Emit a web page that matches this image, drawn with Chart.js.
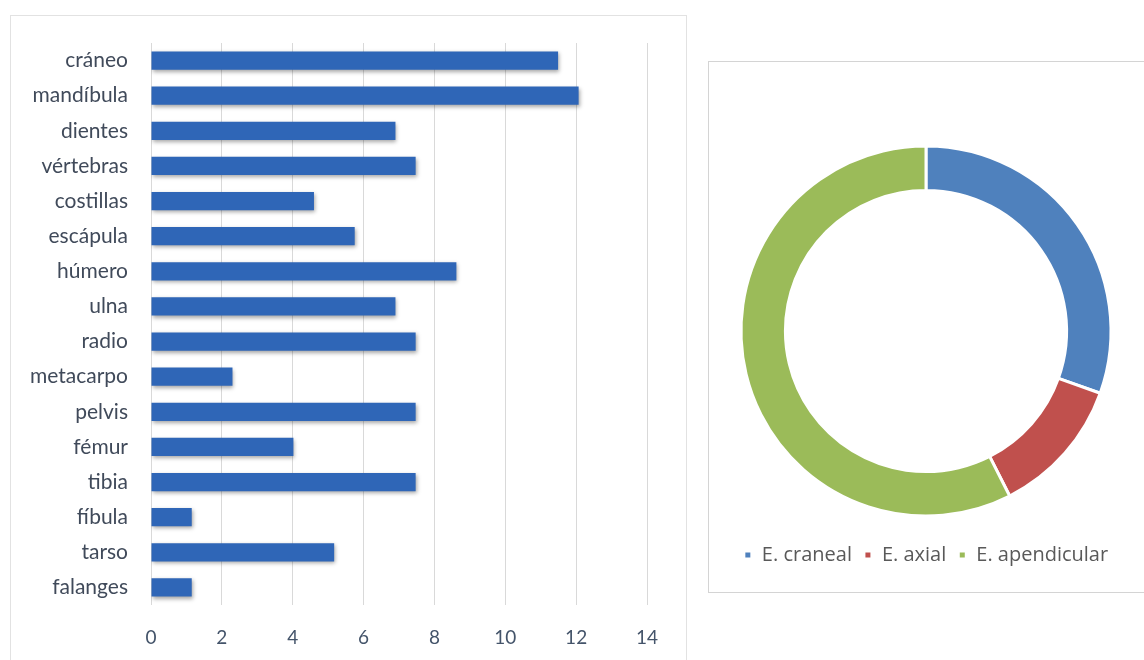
<!DOCTYPE html>
<html lang="es">
<head>
<meta charset="UTF-8">
<title>Elementos óseos</title>
<script src="https://cdn.jsdelivr.net/npm/chart.js@4.4.1/dist/chart.umd.min.js"></script>
<style>
    html, body { margin: 0; padding: 0; background: #fff; overflow: hidden; }
    body { width: 1144px; height: 660px; position: relative; }
    .panel { position: absolute; box-sizing: border-box; }
    #leftBox { left: 10px; top: 15px; width: 677px; height: 700px; border: 1px solid #e2e2e2; }
    #rightBox { left: 708px; top: 61px; width: 460px; height: 532px; border: 1px solid #d4d4d4; }
    #barChart { position: absolute; left: 0; top: 0; }
    #donutChart { position: absolute; left: 708px; top: 61px; }
</style>
</head>
<body>
<div class="panel" id="leftBox"></div>
<div class="panel" id="rightBox"></div>
<canvas id="barChart" width="690" height="660"></canvas>
<canvas id="donutChart" width="436" height="531"></canvas>

<script>
// bar chart: % of each bone element
const bones = ['cráneo', 'mandíbula', 'dientes', 'vértebras', 'costillas', 'escápula', 'húmero', 'ulna',
               'radio', 'metacarpo', 'pelvis', 'fémur', 'tibia', 'fíbula', 'tarso', 'falanges'];
const bonePct = [11.49, 12.07, 6.90, 7.47, 4.60, 5.75, 8.62, 6.90,
                 7.47, 2.30, 7.47, 4.02, 7.47, 1.15, 5.17, 1.15];
const xTicks = [0, 2, 4, 6, 8, 10, 12, 14];

// doughnut: skeleton regions
const regions = ['E. craneal', 'E. axial', 'E. apendicular'];
const regionPct = [30.46, 12.07, 57.47];
const regionColors = ['#4f81bd', '#c0504d', '#9bbb59'];

const labelFont = "Lato, 'DejaVu Sans', sans-serif";

// soft drop shadow under the bars, like the Excel original
const barShadow = {
    id: 'barShadow',
    beforeDatasetsDraw(chart) {
        const c = chart.ctx;
        c.save();
        c.shadowColor = 'rgba(0, 0, 0, 0.35)';
        c.shadowBlur = 4;
        c.shadowOffsetX = 1;
        c.shadowOffsetY = 2;
    },
    afterDatasetsDraw(chart) {
        chart.ctx.restore();
    }
};

const barCtx = document.getElementById('barChart').getContext('2d');
const barChart = new Chart(barCtx, {
    type: 'bar',
    data: {
        labels: bones,
        datasets: [{
            data: bonePct,
            backgroundColor: '#2f66b7',
            borderWidth: 0,
            categoryPercentage: 1,
            barPercentage: 0.52
        }]
    },
    options: {
        indexAxis: 'y',
        responsive: false,
        animation: false,
        layout: { padding: { top: 43, right: 43, left: 0, bottom: 0 } },
        plugins: {
            legend: { display: false },
            tooltip: { enabled: false }
        },
        scales: {
            x: {
                min: 0,
                max: 14,
                afterBuildTicks: (scale) => { scale.ticks = xTicks.map(v => ({ value: v })); },
                afterFit: (scale) => { scale.height = 55; },
                grid: { color: '#d9d9d9', drawTicks: false },
                border: { display: false },
                ticks: { color: '#44546a', padding: 21, font: { family: labelFont, size: 19 } }
            },
            y: {
                afterFit: (scale) => { scale.width = 151; },
                grid: { display: false, drawTicks: false },
                border: { display: false },
                ticks: { color: '#404a5a', padding: 23, font: { family: labelFont, size: 21 } }
            }
        }
    },
    plugins: [barShadow]
});

const donutCtx = document.getElementById('donutChart').getContext('2d');
const donutChart = new Chart(donutCtx, {
    type: 'doughnut',
    data: {
        labels: regions,
        datasets: [{
            data: regionPct,
            backgroundColor: regionColors,
            borderColor: '#ffffff',
            borderWidth: 3
        }]
    },
    options: {
        responsive: false,
        animation: false,
        radius: 185,
        cutout: '76%',
        layout: { padding: { top: 68, left: 10, right: 10, bottom: 17 } },
        plugins: {
            tooltip: { enabled: false },
            legend: {
                position: 'bottom',
                labels: {
                    boxWidth: 8,
                    boxHeight: 8,
                    padding: 12,
                    color: '#595959',
                    font: { family: "'Open Sans', sans-serif", size: 20 }
                }
            }
        }
    }
});
</script>
</body>
</html>
